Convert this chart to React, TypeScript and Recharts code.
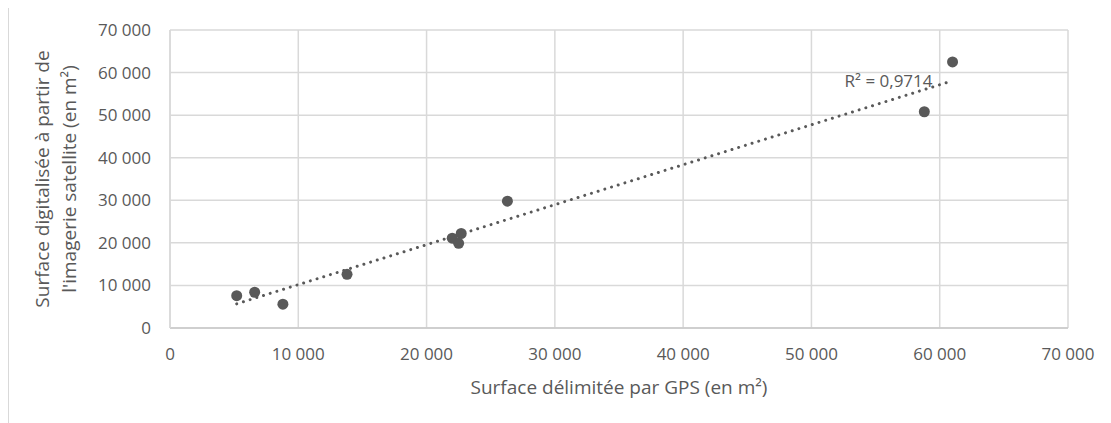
import React from 'react';
import { ScatterChart, Scatter, XAxis, YAxis, CartesianGrid, ReferenceDot } from 'recharts';

// Surface délimitée par GPS (m²)
const gpsArea = [5200, 6600, 8800, 13800, 22000, 22700, 22500, 26300, 58800, 61000];
// Surface digitalisée à partir de l'imagerie satellite (m²)
const satArea = [7600, 8400, 5600, 12600, 21100, 22200, 19900, 29800, 50800, 62500];
const axisTicks = [0, 10000, 20000, 30000, 40000, 50000, 60000, 70000];
const r2Label = 'R² = 0,9714';
const xTitle = 'Surface délimitée par GPS (en m²)';
const yTitleLines = ['Surface digitalisée à partir de', "l'imagerie satellite (en m²)"];

const points = gpsArea.map((x, i) => ({ x, y: satArea[i] }));

// least-squares linear trendline over the data range
const n = gpsArea.length;
const mx = gpsArea.reduce((a, b) => a + b, 0) / n;
const my = satArea.reduce((a, b) => a + b, 0) / n;
let sxy = 0, sxx = 0;
for (let i = 0; i < n; i++) { sxy += (gpsArea[i] - mx) * (satArea[i] - my); sxx += (gpsArea[i] - mx) ** 2; }
const slope = sxy / sxx;
const intercept = my - slope * mx;
const xMin = Math.min(...gpsArea);
const xMax = Math.max(...gpsArea);
const trend = [
  { x: xMin, y: intercept + slope * xMin },
  { x: xMax, y: intercept + slope * xMax },
];

const fmt = (v: number) => String(v).replace(/\B(?=(\d{3})+(?!\d))/g, ' ');
const FONT = '"Open Sans", sans-serif';
const GREY = '#595959';

const YTitle = (props: any) => {
  const vb = props.viewBox || {};
  const cy = vb.y + vb.height / 2;
  const x1 = 34;
  const x2 = 61;
  return (
    <g>
      <text x={x1} y={cy} transform={`rotate(-90 ${x1} ${cy})`} textAnchor="middle" dominantBaseline="central" fill={GREY} fontSize={19} fontFamily={FONT}>{yTitleLines[0]}</text>
      <text x={x2} y={cy} transform={`rotate(-90 ${x2} ${cy})`} textAnchor="middle" dominantBaseline="central" fill={GREY} fontSize={19} fontFamily={FONT}>{yTitleLines[1]}</text>
    </g>
  );
};

export default function App() {
  return (
    <div style={{ position: 'relative', width: 1103, height: 419, marginTop: -4, overflow: 'hidden', background: '#fff' }}>
      <div style={{ position: 'absolute', left: 0, top: 0, width: 2000, height: 2000, borderLeft: '1.5px solid #d9d9d9', borderTop: '1.5px solid #d9d9d9', boxSizing: 'border-box' }} />
      <div style={{ position: 'absolute', left: 0, top: 0 }}>
        <ScatterChart width={1103} height={419} margin={{ top: 26, right: 43, bottom: 0, left: 0 }}>
          <CartesianGrid stroke="#d9d9d9" strokeWidth={1.5} horizontalValues={axisTicks} verticalValues={axisTicks} />
          <XAxis
            type="number"
            dataKey="x"
            domain={[0, 70000]}
            ticks={axisTicks}
            tickFormatter={fmt}
            height={95}
            tickLine={false}
            tickSize={0}
            tickMargin={20}
            axisLine={{ stroke: '#c8c8c8', strokeWidth: 1.5 }}
            tick={{ fill: GREY, fontSize: 17, fontFamily: FONT }}
            label={{ value: xTitle, position: 'insideBottom', offset: 29, fill: GREY, fontSize: 19, fontFamily: FONT }}
          />
          <YAxis
            type="number"
            dataKey="y"
            domain={[0, 70000]}
            ticks={axisTicks}
            tickFormatter={fmt}
            width={162}
            tickLine={false}
            tickSize={0}
            tickMargin={19}
            axisLine={{ stroke: '#d9d9d9', strokeWidth: 1.5 }}
            tick={{ fill: GREY, fontSize: 17, fontFamily: FONT }}
            label={<YTitle />}
          />
          <Scatter
            data={trend}
            line={{ stroke: GREY, strokeWidth: 3, strokeDasharray: '0.01 7', strokeLinecap: 'round' }}
            shape={() => null}
            isAnimationActive={false}
          />
          <Scatter data={points} fill={GREY} isAnimationActive={false}
            shape={(p: any) => <circle cx={p.cx} cy={p.cy} r={5.5} fill={GREY} />} />
          <ReferenceDot
            x={trend[1].x}
            y={trend[1].y}
            r={0}
            fill="none"
            stroke="none"
            label={{ value: r2Label, position: 'left', offset: 20, fill: GREY, fontSize: 17, fontFamily: FONT }}
          />
        </ScatterChart>
      </div>
    </div>
  );
}
